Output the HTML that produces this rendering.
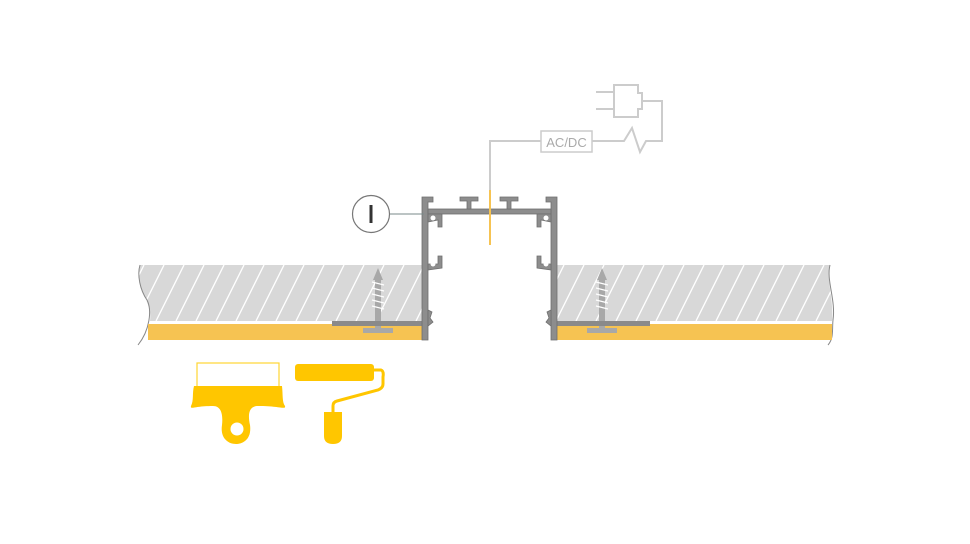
<!DOCTYPE html>
<html><head><style>
html,body{margin:0;padding:0;background:#fff;}
svg{display:block;}
</style></head><body>
<svg width="970" height="544" viewBox="0 0 970 544" xmlns="http://www.w3.org/2000/svg">
<defs>
<pattern id="h" patternUnits="userSpaceOnUse" width="20" height="56" x="0" y="265">
<rect width="20" height="56" fill="#d8d8d8"/>
<line x1="-4" y1="56" x2="24" y2="0" stroke="#fff" stroke-width="1.3"/>
<line x1="-24" y1="56" x2="4" y2="0" stroke="#fff" stroke-width="1.3"/>
<line x1="16" y1="56" x2="44" y2="0" stroke="#fff" stroke-width="1.3"/>
</pattern>
</defs>
<path d="M140,265 L422,265 L422,321 L150,321 C152,305 142,295 140,285 C138,275 140,268 140,265Z" fill="url(#h)"/>
<path d="M140,265 C137,275 140,290 147,300 C152,310 150,330 138,345" fill="none" stroke="#888" stroke-width="1"/>
<rect x="148" y="324" width="274" height="16" fill="#f6c352"/>
<path d="M557,265 L830,265 C826,280 834,300 832,321 L557,321Z" fill="url(#h)"/>
<path d="M830,265 C826,280 836,300 833,320 C832,330 834,338 828,345" fill="none" stroke="#888" stroke-width="1"/>
<rect x="557" y="324" width="275" height="16" fill="#f6c352"/>
<g fill="#a8a8a8">
<polygon points="378,268 373,280 383,280"/>
<rect x="375" y="278" width="6" height="50"/>
<rect x="363" y="328" width="30" height="5"/>
<polygon points="602,268 597,280 607,280"/>
<rect x="599" y="278" width="6" height="50"/>
<rect x="587" y="328" width="30" height="5"/>
</g>
<g stroke="#fff" stroke-width="1.2" fill="none">
<path d="M372,282 L384,285 M372,288 L384,291 M372,294 L384,297 M372,300 L384,303 M372,306 L384,309"/>
<path d="M596,282 L608,285 M596,288 L608,291 M596,294 L608,297 M596,300 L608,303 M596,306 L608,309"/>
</g>
<rect x="332" y="321" width="92" height="5" fill="#8a8a8a"/>
<rect x="555" y="321" width="95" height="5" fill="#8a8a8a"/>
<g fill="#8d8d8d" stroke="#6f6f6f" stroke-width="0.8">
<path d="M422,197 L433,197 L433,202 L428,202 L428,340 L422,340Z"/>
<path d="M557,197 L546,197 L546,202 L551,202 L551,340 L557,340Z"/>
<rect x="428" y="209" width="123" height="5"/>
<path d="M460,197 L478,197 L478,201 L471,201 L471,209 L467,209 L467,201 L460,201Z"/>
<path d="M500,197 L518,197 L518,201 L511,201 L511,209 L507,209 L507,201 L500,201Z"/>
<path d="M428,214 L442,214 L442,227 L438,227 L438,220 L428,222Z"/>
<path d="M551,214 L537,214 L537,227 L541,227 L541,220 L551,222Z"/>
<path d="M428,270 L442,268 L442,256 L438,256 L438,264 L428,264Z"/>
<path d="M551,270 L537,268 L537,256 L541,256 L541,264 L551,264Z"/>
<path d="M428,310 L432,312 L430,318 L433,322 L428,326Z"/>
<path d="M551,310 L547,312 L549,318 L546,322 L551,326Z"/>
</g>
<g fill="#fff"><circle cx="433" cy="218" r="2.5"/><circle cx="546" cy="218" r="2.5"/><circle cx="433" cy="264" r="2.5"/><circle cx="546" cy="264" r="2.5"/></g>
<line x1="390" y1="214" x2="424" y2="214" stroke="#7a8a8a" stroke-width="1"/>
<circle cx="371" cy="214" r="18.5" fill="#fff" stroke="#777" stroke-width="1.2"/>
<rect x="369.5" y="205" width="3" height="18" fill="#333"/>
<line x1="490" y1="190" x2="490" y2="245" stroke="#f6c352" stroke-width="2"/>
<polyline points="490,190 490,141 541,141" fill="none" stroke="#ccc" stroke-width="2"/>
<rect x="541" y="131" width="51" height="21" fill="#fff" stroke="#ccc" stroke-width="1.5"/>
<text x="566.5" y="147" font-family="Liberation Sans, sans-serif" font-size="13" fill="#aaa" text-anchor="middle">AC/DC</text>
<polyline points="592,141 624,141 632,128 640,152 646,141 662,141 662,101 642,101" fill="none" stroke="#ccc" stroke-width="2"/>
<path d="M614,85 L638,85 L638,93 L642,93 L642,109 L638,109 L638,117 L614,117Z" fill="#fff" stroke="#ccc" stroke-width="2"/>
<line x1="596" y1="92" x2="614" y2="92" stroke="#ccc" stroke-width="2"/>
<line x1="596" y1="109" x2="614" y2="109" stroke="#ccc" stroke-width="2"/>
<rect x="197" y="363" width="82" height="24" fill="#fff" stroke="#ffd633" stroke-width="1.2"/>
<path d="M194,386 L282,386 C283,395 282,402 285,406 C286,410 280,406 258,406 C248,406 248,416 250,425 C252,440 242,444 236,444 C228,444 220,438 222,425 C223,416 222,406 213,406 C194,406 190,410 191,406 C194,400 192,394 194,386Z" fill="#ffc600"/>
<circle cx="237" cy="429" r="6.5" fill="#fff"/>
<rect x="295" y="364" width="79" height="17" rx="3" fill="#ffc600"/>
<path d="M374,370 L381,370 Q384,371 383,377 L383,384 Q383,388 378,390 L337,401 Q333,402 333,406 L333,412" fill="none" stroke="#ffc600" stroke-width="3"/>
<path d="M324,412 L342,412 L342,436 Q342,444 333,444 Q324,444 324,436Z" fill="#ffc600"/>
</svg>
</body></html>
